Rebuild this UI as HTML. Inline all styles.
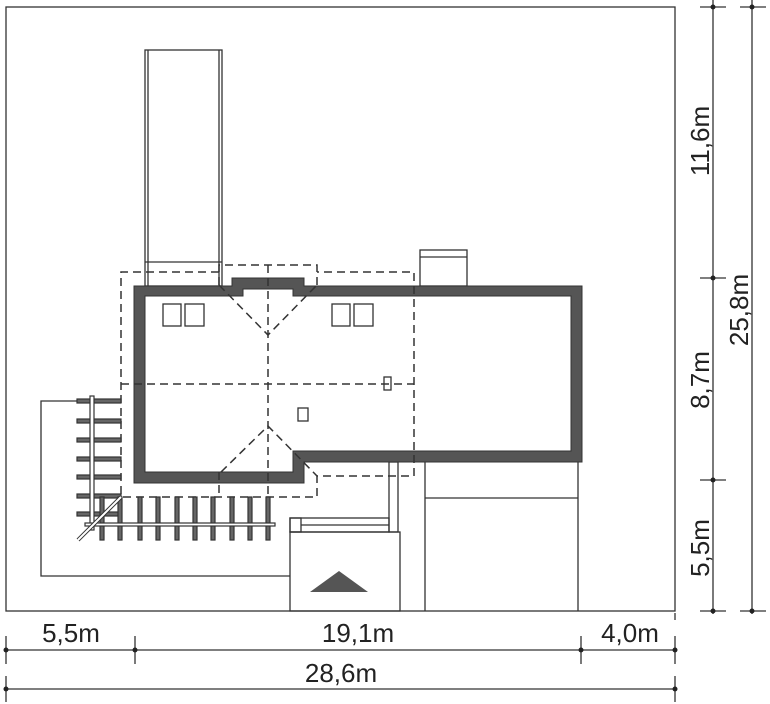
<!DOCTYPE html>
<html><head><meta charset="utf-8"><style>html,body{margin:0;padding:0;background:#fff}svg{display:block}text{font-family:"Liberation Sans",sans-serif;font-size:26px;fill:#222}</style></head><body>
<svg width="770" height="704" viewBox="0 0 770 704" xmlns="http://www.w3.org/2000/svg">
<g fill="none" stroke="#333" stroke-width="1.3">
<rect x="6" y="7" width="669" height="604"/>
<rect x="145" y="50" width="77" height="236"/>
<line x1="148" y1="50" x2="148" y2="286"/><line x1="219" y1="50" x2="219" y2="286"/>
<line x1="145" y1="262" x2="222" y2="262"/>
<rect x="420" y="250" width="47" height="36"/><line x1="420" y1="257" x2="467" y2="257"/>
<polyline points="77,401 41,401 41,576 290,576"/>
<rect x="290" y="532" width="110" height="79"/>
<rect x="389" y="462" width="9" height="70"/>
<rect x="290" y="518" width="99" height="14"/><line x1="301" y1="525" x2="389" y2="525"/>
<rect x="290" y="518" width="11" height="14"/>
<line x1="425" y1="462" x2="425" y2="611"/><line x1="578" y1="462" x2="578" y2="611"/>
<line x1="425" y1="498" x2="578" y2="498"/>
<rect x="163" y="304" width="18" height="22"/><rect x="185" y="304" width="19" height="22"/>
<rect x="332" y="304" width="18" height="22"/><rect x="354" y="304" width="19" height="22"/>
<rect x="298" y="408" width="10" height="13"/><rect x="384" y="377" width="7" height="13"/>
</g>
<polygon points="310,592 339,571 368,592" fill="#555"/>
<path fill="#555" fill-rule="evenodd" stroke="#333" d="M134,286 L232,286 L232,278 L304,278 L304,286 L582,286 L582,462 L304,462 L304,483 L134,483 Z M145,296 L243,296 L243,289 L293,289 L293,296 L571,296 L571,451 L293,451 L293,472 L145,472 Z"/>
<g fill="none" stroke="#333" stroke-width="1.5" stroke-dasharray="8,5">
<polyline points="219,272 121,272 121,497 317,497 317,476 414,476 414,272 317,272"/>
<polyline points="219,285 219,265 317,265 317,285"/>
<line x1="268" y1="265" x2="268" y2="497"/>
<line x1="121" y1="384" x2="414" y2="384"/>
<polyline points="219,285 268,335 317,285"/>
<polyline points="221,472 268,426 317,476"/>
<line x1="219" y1="472" x2="219" y2="497"/>
</g>
<g stroke="#333" stroke-width="1.2" fill="#666">
<rect x="77" y="399" width="44" height="4"/><rect x="77" y="419" width="44" height="4"/><rect x="77" y="438" width="44" height="4"/><rect x="77" y="457" width="44" height="4"/><rect x="77" y="475" width="44" height="4"/><rect x="77" y="494" width="44" height="4"/><rect x="77" y="512" width="44" height="4"/>
<rect x="100" y="497" width="4" height="43"/><rect x="118" y="497" width="4" height="43"/><rect x="138" y="497" width="4" height="43"/><rect x="156" y="497" width="4" height="43"/><rect x="175" y="497" width="4" height="43"/><rect x="193" y="497" width="4" height="43"/><rect x="211" y="497" width="4" height="43"/><rect x="230" y="497" width="4" height="43"/><rect x="248" y="497" width="4" height="43"/><rect x="266" y="497" width="4" height="43"/>
</g>
<g stroke="#333" stroke-width="1.2" fill="#fff">
<rect x="90" y="396" width="4" height="134"/>
<rect x="85" y="523" width="190" height="3"/>
</g>
<line x1="78" y1="540" x2="121" y2="497" stroke="#333" stroke-width="4"/>
<line x1="78" y1="540" x2="121" y2="497" stroke="#fff" stroke-width="2"/>
<g stroke="#333" stroke-width="1.3">
<line x1="713" y1="0" x2="713" y2="614"/><line x1="752" y1="0" x2="752" y2="614"/>
<line x1="700" y1="7" x2="726" y2="7"/><line x1="700" y1="278" x2="726" y2="278"/><line x1="700" y1="480" x2="726" y2="480"/><line x1="700" y1="611" x2="726" y2="611"/>
<line x1="740" y1="7" x2="766" y2="7"/><line x1="740" y1="611" x2="766" y2="611"/>
<line x1="6" y1="650" x2="675" y2="650"/><line x1="6" y1="689" x2="675" y2="689"/>
<line x1="6" y1="636" x2="6" y2="664"/><line x1="135" y1="636" x2="135" y2="664"/><line x1="581" y1="636" x2="581" y2="664"/><line x1="675" y1="636" x2="675" y2="664"/>
<line x1="6" y1="676" x2="6" y2="702"/><line x1="675" y1="676" x2="675" y2="702"/>
<line x1="675" y1="613" x2="675" y2="620"/>
</g>
<g fill="#222">
<circle cx="713" cy="7" r="2.5"/><circle cx="713" cy="278" r="2.5"/><circle cx="713" cy="480" r="2.5"/><circle cx="713" cy="611" r="2.5"/>
<circle cx="752" cy="7" r="2.5"/><circle cx="752" cy="611" r="2.5"/>
<circle cx="6" cy="650" r="2.5"/><circle cx="135" cy="650" r="2.5"/><circle cx="581" cy="650" r="2.5"/><circle cx="675" cy="650" r="2.5"/>
<circle cx="6" cy="689" r="2.5"/><circle cx="675" cy="689" r="2.5"/>
</g>
<text x="71" y="642" text-anchor="middle">5,5m</text>
<text x="358" y="642" text-anchor="middle">19,1m</text>
<text x="630" y="642" text-anchor="middle">4,0m</text>
<text x="341" y="682" text-anchor="middle">28,6m</text>
<text transform="translate(709,141) rotate(-90)" text-anchor="middle">11,6m</text>
<text transform="translate(748,310) rotate(-90)" text-anchor="middle">25,8m</text>
<text transform="translate(709,380) rotate(-90)" text-anchor="middle">8,7m</text>
<text transform="translate(709,548) rotate(-90)" text-anchor="middle">5,5m</text>
</svg>
</body></html>
